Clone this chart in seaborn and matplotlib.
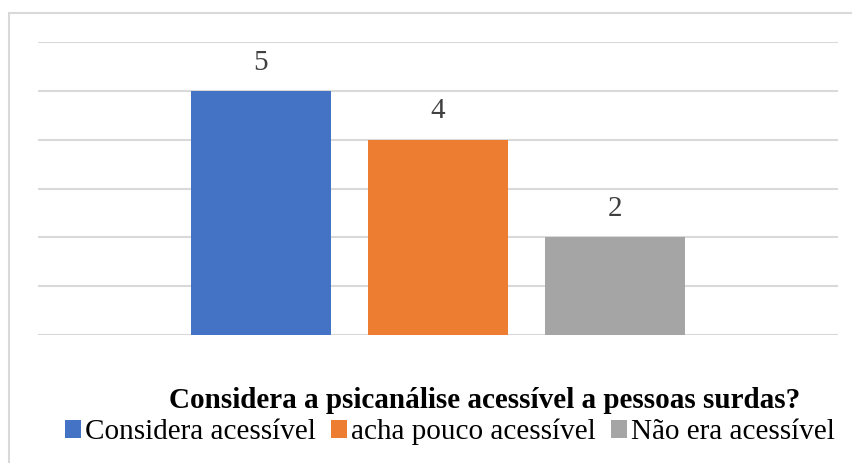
import matplotlib
matplotlib.use("Agg")
import matplotlib.pyplot as plt
import matplotlib.patches as mpatches
import seaborn as sns
import pandas as pd

# dados do gráfico
categorias = ["Considera acessível", "acha pouco acessível", "Não era acessível"]
valores = [5, 4, 2]
cores = ["#4472C4", "#ED7D31", "#A5A5A5"]
titulo = "Considera a psicanálise acessível a pessoas surdas?"

df = pd.DataFrame({"resposta": categorias, "valor": valores})

sns.set_theme(style="white")
plt.rcParams["font.family"] = ["Liberation Serif", "DejaVu Serif"]
plt.rcParams["text.color"] = "black"

fig = plt.figure(figsize=(8.53, 4.63), dpi=100)
ax = fig.add_axes([38 / 853, 1 - 335 / 463, 800 / 853, 293 / 463])

sns.barplot(data=df, x="resposta", y="valor", hue="resposta", palette=cores,
            width=0.79, legend=False, ax=ax, saturation=1, linewidth=0)

ax.set_ylim(0, 6)
ax.set_xlim(1 - 400 / 177.25, 1 + 400 / 177.25)
ax.set_yticks(range(0, 7))
ax.yaxis.grid(True, color="#d9d9d9", linewidth=1.5)
ax.set_axisbelow(True)
ax.set_xticks([])
ax.set_yticklabels([])
ax.tick_params(left=False, bottom=False)
ax.set_xlabel("")
ax.set_ylabel("")
for s in ax.spines.values():
    s.set_visible(False)

for cont in ax.containers:
    ax.bar_label(cont, padding=11, fontsize=21, color="#404040")

# título embaixo do gráfico
fig.text(484.5 / 853, 1 - 400 / 463, titulo, ha="center", va="center",
         fontsize=21, fontweight="bold", color="black")

handles = [mpatches.Patch(color=c, label=l, linewidth=0) for c, l in zip(cores, categorias)]
fig.legend(handles=handles, loc="center", bbox_to_anchor=(450 / 853, 1 - 432 / 463),
           ncol=3, frameon=False, fontsize=21, handlelength=0.55, handleheight=0.55,
           handletextpad=0.15, columnspacing=0.5, borderpad=0, labelcolor="black")

# moldura cinza clara
fig.patches.append(mpatches.Rectangle((9 / 853, -0.1), 1.0, 1 - 13 / 463 + 0.1,
                                      transform=fig.transFigure, fill=False,
                                      edgecolor="#d9d9d9", linewidth=1.5))

fig.savefig("out.png", dpi=100)
